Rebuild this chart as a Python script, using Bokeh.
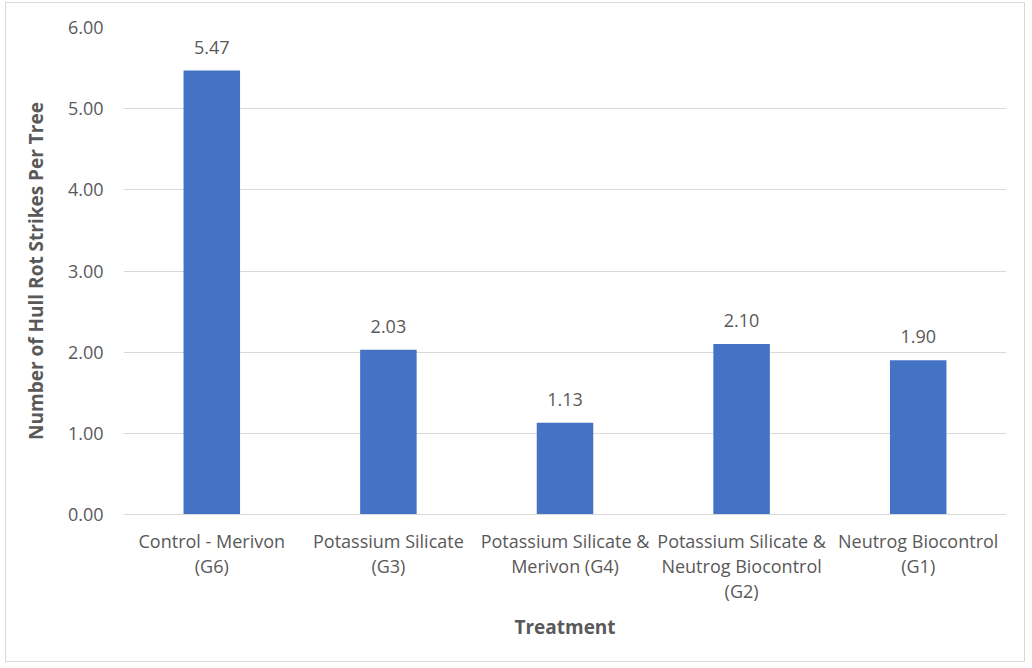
from bokeh.plotting import figure
from bokeh.models import ColumnDataSource, LabelSet, FixedTicker
from bokeh.core.properties import value
from bokeh.embed import file_html
from bokeh.resources import INLINE

categories = [
    "Control - Merivon\n(G6)",
    "Potassium Silicate\n(G3)",
    "Potassium Silicate &\nMerivon (G4)",
    "Potassium Silicate &\nNeutrog Biocontrol\n(G2)",
    "Neutrog Biocontrol\n(G1)",
]
values = [5.47, 2.03, 1.13, 2.10, 1.90]
y_ticks = [0, 1, 2, 3, 4, 5, 6]

FONT = "Open Sans"
TXT = "#595959"
BAR = "#4472C4"

src = ColumnDataSource(dict(cat=categories, val=values, lab=["%.2f" % v for v in values]))

p = figure(width=1020, height=660, x_range=categories, y_range=(0, 6),
           output_backend="svg", toolbar_location=None,
           min_border_left=117, min_border_right=20, min_border_top=24, min_border_bottom=149)
p.styles = {"border": "1px solid #d9d9d9", "margin-left": "5px", "margin-top": "2px"}
p.outline_line_color = None
p.background_fill_color = "white"
p.border_fill_color = "white"

p.vbar(x="cat", top="val", width=0.32, source=src, fill_color=BAR, line_color=None)

labels = LabelSet(x="cat", y="val", text="lab", source=src, text_align="center",
                  text_baseline="alphabetic", y_offset=17, text_font=value(FONT),
                  text_font_size=value("18px"), text_color=value(TXT))
p.add_layout(labels)

p.xgrid.grid_line_color = None
p.ygrid.grid_line_color = "#d9d9d9"
p.ygrid.grid_line_width = 1
p.yaxis.ticker = FixedTicker(ticks=y_ticks)
p.yaxis.major_label_overrides = {t: "%.2f" % t for t in y_ticks}

for ax in (p.xaxis[0], p.yaxis[0]):
    ax.major_tick_line_color = None
    ax.minor_tick_line_color = None
    ax.major_label_text_font = FONT
    ax.major_label_text_font_size = "18px"
    ax.major_label_text_color = TXT
    ax.axis_label_text_font = FONT
    ax.axis_label_text_font_size = "19px"
    ax.axis_label_text_font_style = "bold"
    ax.axis_label_text_color = TXT

p.xaxis.major_label_text_line_height = 1.05
p.yaxis.axis_line_color = None
p.xaxis.axis_line_color = "#d9d9d9"
p.yaxis.major_label_standoff = 14
p.xaxis.major_label_standoff = 8
p.yaxis.axis_label = "Number of Hull Rot Strikes Per Tree"
p.xaxis.axis_label = "Treatment"
p.yaxis.axis_label_standoff = 16
p.xaxis.axis_label_standoff = 8

open("out.html", "w").write(file_html(p, INLINE))
